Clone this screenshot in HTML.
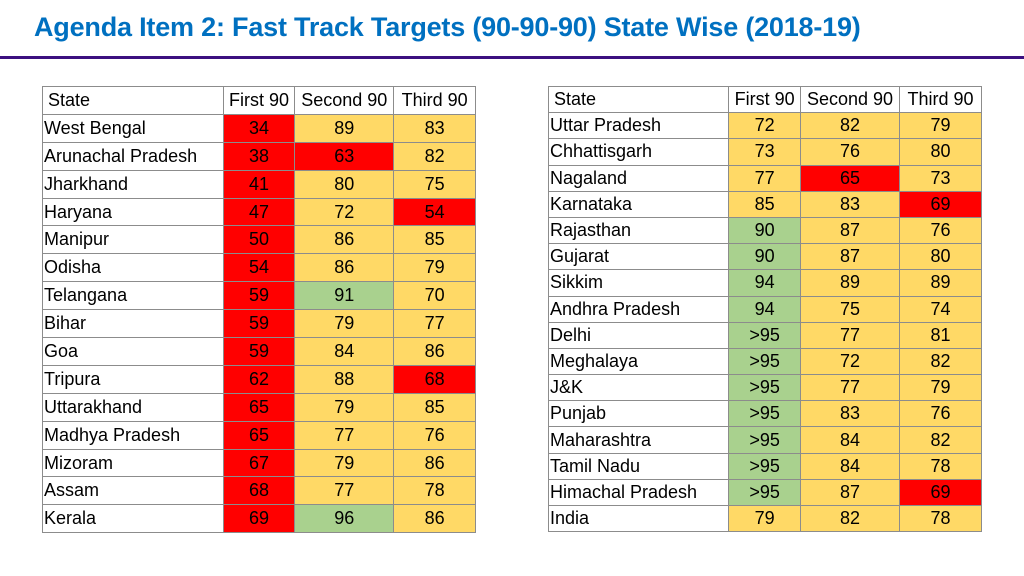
<!DOCTYPE html>
<html><head><meta charset="utf-8">
<style>
body{margin:0;width:1024px;height:576px;background:#fff;position:relative;overflow:hidden;font-family:"Liberation Sans",sans-serif}
#title{position:absolute;left:34px;top:12px;font-size:27px;font-weight:bold;color:#0070C0;white-space:nowrap;letter-spacing:-0.2px}
#rule{position:absolute;left:0;top:56px;width:1024px;height:3px;background:#3c1080}
table{position:absolute;top:86px;border-collapse:collapse;font-size:18px;color:#000}
td{border:1px solid #8c8c8c;padding:0;text-align:center;white-space:nowrap;overflow:hidden}
td.s{text-align:left;padding-left:1px}
tr.h td{background:#fff}
.r{background:#FF0000}.y{background:#FFD966}.g{background:#A9D18E}
</style></head><body>
<div id="title">Agenda Item 2: Fast Track Targets (90-90-90) State Wise (2018-19)</div>
<div id="rule"></div>
<table id="t1" style="left:42px;width:434px"></table>
<table id="t2" style="left:548px;width:434px"></table>
<script>
const leftStates=["West Bengal","Arunachal Pradesh","Jharkhand","Haryana","Manipur","Odisha","Telangana","Bihar","Goa","Tripura","Uttarakhand","Madhya Pradesh","Mizoram","Assam","Kerala"];
const leftFirst=["34","38","41","47","50","54","59","59","59","62","65","65","67","68","69"];
const leftSecond=["89","63","80","72","86","86","91","79","84","88","79","77","79","77","96"];
const leftThird=["83","82","75","54","85","79","70","77","86","68","85","76","86","78","86"];
const rightStates=["Uttar Pradesh","Chhattisgarh","Nagaland","Karnataka","Rajasthan","Gujarat","Sikkim","Andhra Pradesh","Delhi","Meghalaya","J&K","Punjab","Maharashtra","Tamil Nadu","Himachal Pradesh","India"];
const rightFirst=["72","73","77","85","90","90","94","94",">95",">95",">95",">95",">95",">95",">95","79"];
const rightSecond=["82","76","65","83","87","87","89","75","77","72","77","83","84","84","87","82"];
const rightThird=["79","80","73","69","76","80","89","74","81","82","79","76","82","78","69","78"];
const headers=["State","First 90","Second 90","Third 90"];
function cls(v){const n=v.startsWith(">")?100:parseFloat(v);return n<70?"r":(n>=90?"g":"y");}
function build(id,states,c1,c2,c3,rowH){
  const t=document.getElementById(id);
  const widths=[179,72,100,83];
  const hr=document.createElement('tr');hr.className='h';
  
  
  headers.forEach((h,i)=>{const td=document.createElement('td');td.textContent=h;td.style.width=widths[i]+'px';td.style.height=rowH+'px';if(i==0){td.className='s';td.style.paddingLeft='5px';}
    
    
    hr.appendChild(td);});
  t.appendChild(hr);
  states.forEach((s,k)=>{
    const tr=document.createElement('tr');
    
    
    const a=document.createElement('td');a.className='s';a.textContent=s;a.style.height=rowH+'px';
    
    
    tr.appendChild(a);
    [c1[k],c2[k],c3[k]].forEach(v=>{const td=document.createElement('td');td.textContent=v;td.className=cls(v);
      
      
      tr.appendChild(td);});
    t.appendChild(tr);
  });
}
build('t1',leftStates,leftFirst,leftSecond,leftThird,26.9);
build('t2',rightStates,rightFirst,rightSecond,rightThird,25.2);
</script>
</body></html>
